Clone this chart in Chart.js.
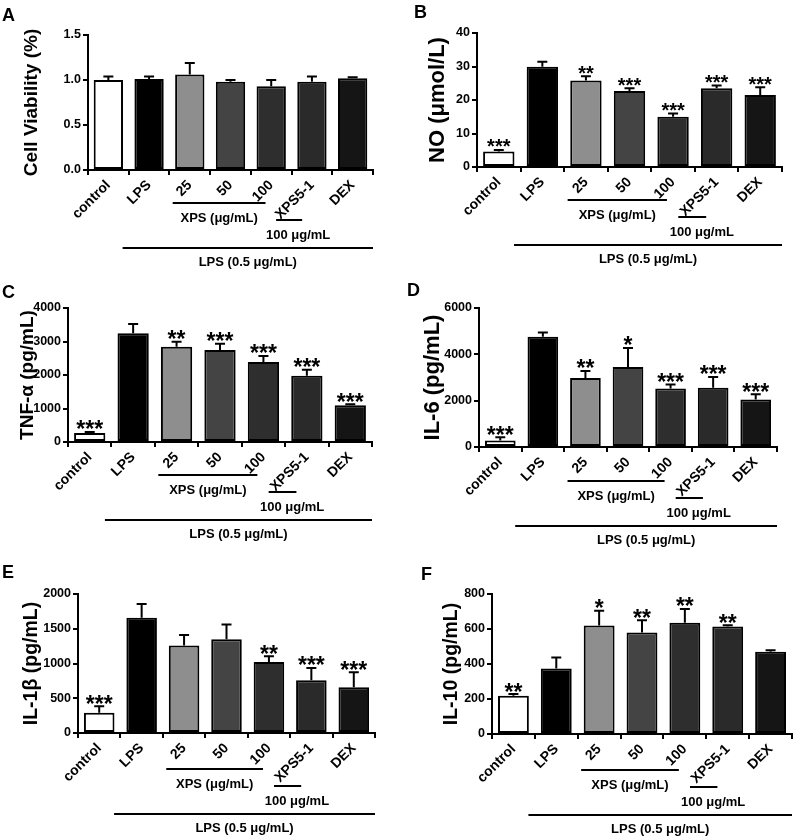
<!DOCTYPE html>
<html>
<head>
<meta charset="utf-8">
<script src="https://cdn.jsdelivr.net/npm/chart.js@4/dist/chart.umd.min.js"></script>
<style>
body { margin: 0; background: #fff; }
#wrap { position: relative; width: 798px; height: 838px; }
canvas { position: absolute; }
.lbl { position: absolute; font: bold 18px "Liberation Sans", Arial, sans-serif; line-height: 1; color: #000; }
</style>
</head>
<body>
<div id="wrap">
  <canvas id="cA" width="399" height="280" style="left:0;top:0"></canvas>
  <canvas id="cB" width="399" height="280" style="left:399px;top:0"></canvas>
  <canvas id="cC" width="399" height="280" style="left:0;top:280px"></canvas>
  <canvas id="cD" width="399" height="280" style="left:399px;top:280px"></canvas>
  <canvas id="cE" width="399" height="280" style="left:0;top:558px"></canvas>
  <canvas id="cF" width="399" height="280" style="left:399px;top:558px"></canvas>
  <div class="lbl" style="left:2px;top:6px">A</div>
  <div class="lbl" style="left:414px;top:3px">B</div>
  <div class="lbl" style="left:2px;top:283px">C</div>
  <div class="lbl" style="left:407px;top:281px">D</div>
  <div class="lbl" style="left:2px;top:563px">E</div>
  <div class="lbl" style="left:421px;top:565px">F</div>
</div>
<script>
// groups on the x axis
const groups = ["control", "LPS", "25", "50", "100", "XPS5-1", "DEX"];
const barColors = ["#ffffff", "#000000", "#8e8e8e", "#444444", "#2e2e2e", "#2a2a2a", "#151515"];

// A - cell viability
const viabilityMean = [1.00, 1.01, 1.06, 0.98, 0.93, 0.98, 1.02];
const viabilitySD = [0.04, 0.03, 0.13, 0.02, 0.07, 0.06, 0.01];
const viabilityStars = ["", "", "", "", "", "", ""];

// B - NO
const noMean = [4.6, 29.9, 25.8, 22.7, 15.0, 23.5, 21.5];
const noSD = [0.5, 1.5, 1.3, 0.8, 1.0, 0.8, 2.3];
const noStars = ["***", "", "**", "***", "***", "***", "***"];

// C - TNF-alpha
const tnfMean = [270, 3250, 2840, 2750, 2390, 1980, 1100];
const tnfSD = [30, 270, 150, 180, 180, 180, 30];
const tnfStars = ["***", "", "**", "***", "***", "***", "***"];

// D - IL-6
const il6Mean = [280, 4760, 2980, 3450, 2530, 2560, 2050];
const il6SD = [140, 180, 300, 820, 170, 460, 230];
const il6Stars = ["***", "", "**", "*", "***", "***", "***"];

// E - IL-1beta
const il1bMean = [290, 1660, 1260, 1350, 1020, 760, 660];
const il1bSD = [95, 195, 150, 210, 85, 175, 215];
const il1bStars = ["***", "", "", "", "**", "***", "***"];

// F - IL-10
const il10Mean = [218, 374, 620, 580, 636, 615, 470];
const il10SD = [10, 63, 85, 70, 78, 6, 9];
const il10Stars = ["**", "", "*", "**", "**", "**", ""];

// y axis ticks
const viabilityTicks = [0, 0.5, 1.0, 1.5];
const noTicks = [0, 10, 20, 30, 40];
const tnfTicks = [0, 1000, 2000, 3000, 4000];
const il6Ticks = [0, 2000, 4000, 6000];
const il1bTicks = [0, 500, 1000, 1500, 2000];
const il10Ticks = [0, 200, 400, 600, 800];

const FONT = '"Liberation Sans", Arial, sans-serif';
Chart.defaults.font.family = FONT;
Chart.defaults.font.weight = 'bold';
Chart.defaults.color = '#000';

// error bars + significance stars
const errPlugin = {
  id: 'err',
  afterDatasetsDraw(chart, args, opts) {
    const ctx = chart.ctx;
    const y = chart.scales.y;
    const meta = chart.getDatasetMeta(0);
    ctx.save();
    ctx.strokeStyle = '#000';
    ctx.lineWidth = 2;
    meta.data.forEach((bar, i) => {
      const top = y.getPixelForValue(opts.mean[i] + opts.sd[i]);
      const vy = y.getPixelForValue(opts.mean[i]);
      ctx.beginPath();
      ctx.moveTo(bar.x, vy);
      ctx.lineTo(bar.x, top);
      ctx.moveTo(bar.x - 5, top);
      ctx.lineTo(bar.x + 5, top);
      ctx.stroke();
      if (opts.stars[i]) {
        ctx.fillStyle = '#000';
        ctx.font = 'bold ' + opts.size + 'px ' + FONT;
        ctx.textAlign = 'center';
        ctx.textBaseline = 'alphabetic';
        ctx.fillText(opts.stars[i], bar.x, top - opts.gap + 0.3 * opts.size);
      }
    });
    ctx.restore();
  }
};

// y title and treatment brackets under the axis
const annotPlugin = {
  id: 'annot',
  afterDraw(chart, args, opts) {
    const ctx = chart.ctx;
    const x = chart.scales.x, y = chart.scales.y;
    const w = x.getPixelForValue(1) - x.getPixelForValue(0);
    const c = i => x.getPixelForValue(i);
    const base = y.bottom + opts.dy;
    ctx.save();
    ctx.fillStyle = '#000';
    ctx.strokeStyle = '#000';
    ctx.lineWidth = 2;
    ctx.textAlign = 'center';
    ctx.textBaseline = 'middle';

    // y title
    ctx.save();
    ctx.translate(opts.titleX, (y.top + y.bottom) / 2);
    ctx.rotate(-Math.PI / 2);
    ctx.font = 'bold ' + opts.titleSize + 'px ' + FONT;
    ctx.fillText(opts.title, 0, 0);
    ctx.restore();

    ctx.font = 'bold 13px ' + FONT;
    // XPS
    const x1 = c(2) - 0.42 * w, x2 = c(4) - 0.14 * w;
    ctx.beginPath(); ctx.moveTo(x1, base + 33); ctx.lineTo(x2, base + 33); ctx.stroke();
    ctx.fillText('XPS (μg/mL)', (x1 + x2) / 2, base + 48);
    // XPS5-1 dose
    const s1 = c(5) - 0.88 * w, s2 = c(5) - 0.24 * w;
    ctx.beginPath(); ctx.moveTo(s1, base + 50); ctx.lineTo(s2, base + 50); ctx.stroke();
    ctx.fillText('100 μg/mL', c(5) - 0.34 * w, base + 65);
    // LPS
    const l1 = c(0) + 0.35 * w, l2 = x.right;
    ctx.beginPath(); ctx.moveTo(l1, base + 78); ctx.lineTo(l2, base + 78); ctx.stroke();
    ctx.fillText('LPS (0.5 μg/mL)', (l1 + l2) / 2, base + 92);
    ctx.restore();
  }
};

function makePanel(id, mean, sd, stars, ticks, lay) {
  const cv = document.getElementById(id);
  const H = cv.height;
  new Chart(cv, {
    type: 'bar',
    data: {
      labels: groups,
      datasets: [{
        data: mean,
        backgroundColor: barColors,
        borderColor: '#000',
        borderWidth: 2,
        borderSkipped: false,
        barPercentage: 0.72,
        categoryPercentage: 1.0
      }]
    },
    options: {
      responsive: false,
      animation: false,
      devicePixelRatio: 1,
      layout: { padding: { left: 0, top: lay.top, right: cv.width - lay.right, bottom: 0 } },
      plugins: {
        legend: { display: false },
        tooltip: { enabled: false },
        err: { mean: mean, sd: sd, stars: stars, size: lay.starSize, gap: lay.starGap },
        annot: { title: lay.title, titleX: lay.titleX, titleSize: lay.titleSize, dy: lay.dy }
      },
      scales: {
        x: {
          afterFit: s => { s.height = H - lay.bottom; },
          grid: { drawOnChartArea: false, tickLength: 5, lineWidth: 2, color: '#000' },
          border: { display: true, width: 2, color: '#000' },
          ticks: {
            autoSkip: false, minRotation: 45, maxRotation: 45, padding: 2,
            font: { size: 14, weight: 'bold' }, color: '#000'
          }
        },
        y: {
          min: ticks[0],
          max: ticks[ticks.length - 1],
          afterFit: s => { s.width = lay.axisX; },
          afterBuildTicks: s => { s.ticks = ticks.map(v => ({ value: v })); },
          grid: { drawOnChartArea: false, tickLength: 5, lineWidth: 2, color: '#000' },
          border: { display: true, width: 2, color: '#000' },
          ticks: {
            padding: 2,
            font: { size: 12.5, weight: 'bold' }, color: '#000',
            callback: v => lay.dec ? v.toFixed(1) : String(v)
          }
        }
      }
    },
    plugins: [errPlugin, annotPlugin]
  });
}

makePanel('cA', viabilityMean, viabilitySD, viabilityStars, viabilityTicks,
  { axisX: 88, top: 35, bottom: 170, right: 373, title: 'Cell Viability (%)', titleX: 32, titleSize: 19, dy: 0, dec: true, starSize: 20, starGap: 2.5 });
makePanel('cB', noMean, noSD, noStars, noTicks,
  { axisX: 78, top: 33, bottom: 167, right: 383, title: 'NO (μmol/L)', titleX: 39, titleSize: 22, dy: 0, starSize: 20, starGap: 2.5 });
makePanel('cC', tnfMean, tnfSD, tnfStars, tnfTicks,
  { axisX: 68, top: 28, bottom: 162, right: 372, title: 'TNF-α (pg/mL)', titleX: 28, titleSize: 19, dy: 0, starSize: 23, starGap: 1.5 });
makePanel('cD', il6Mean, il6SD, il6Stars, il6Ticks,
  { axisX: 80, top: 28, bottom: 167, right: 378, title: 'IL-6 (pg/mL)', titleX: 34, titleSize: 22, dy: 1, starSize: 23, starGap: 1.5 });
makePanel('cE', il1bMean, il1bSD, il1bStars, il1bTicks,
  { axisX: 78, top: 36, bottom: 175, right: 375, title: 'IL-1β (pg/mL)', titleX: 32, titleSize: 19.5, dy: 3, starSize: 23, starGap: 1.5 });
makePanel('cF', il10Mean, il10SD, il10Stars, il10Ticks,
  { axisX: 93, top: 36, bottom: 176, right: 393, title: 'IL-10 (pg/mL)', titleX: 53, titleSize: 19.5, dy: 3, starSize: 23, starGap: 1.5 });
</script>
</body>
</html>
